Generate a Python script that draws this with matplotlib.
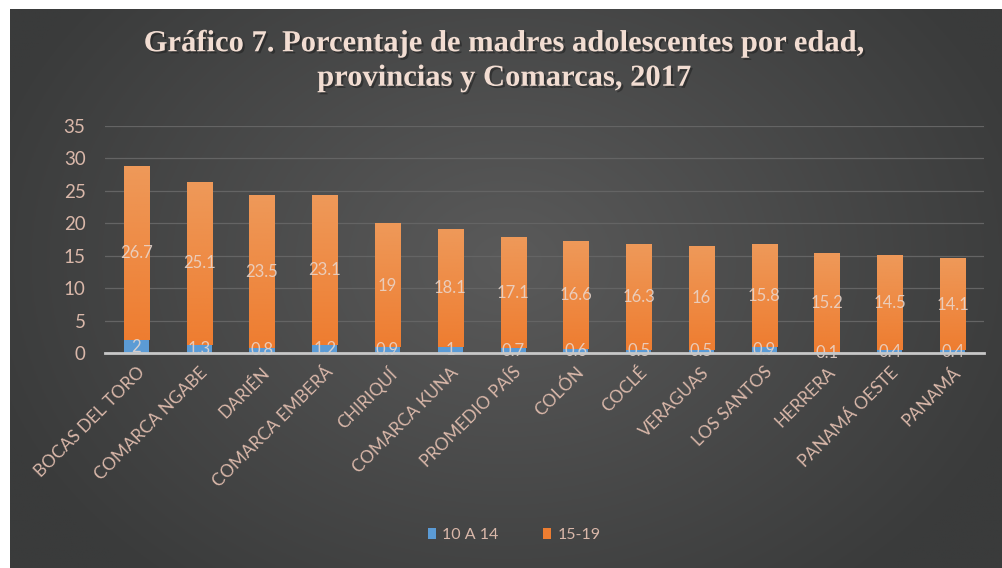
import numpy as np
import matplotlib
matplotlib.use("Agg")
import matplotlib.pyplot as plt
import matplotlib.patheffects as pe

categories = ["BOCAS DEL TORO", "COMARCA NGABE", "DARIÉN", "COMARCA EMBERÁ", "CHIRIQUÍ",
              "COMARCA KUNA", "PROMEDIO PAÍS", "COLÓN", "COCLÉ", "VERAGUAS",
              "LOS SANTOS", "HERRERA", "PANAMÁ OESTE", "PANAMÁ"]
s_10_14 = [2, 1.3, 0.8, 1.2, 0.9, 1, 0.7, 0.6, 0.5, 0.5, 0.9, 0.1, 0.4, 0.4]
s_15_19 = [26.7, 25.1, 23.5, 23.1, 19, 18.1, 17.1, 16.6, 16.3, 16, 15.8, 15.2, 14.5, 14.1]
series_names = ["10 A 14", "15-19"]
yticks = [0, 5, 10, 15, 20, 25, 30, 35]
title = "Gráfico 7. Porcentaje de madres adolescentes por edad,\nprovincias y Comarcas, 2017"

W, H = 1002, 568
fig = plt.figure(figsize=(W / 100, H / 100), dpi=100)
fig.patch.set_facecolor("white")

# background panel with radial gradient
bg = fig.add_axes([10 / W, 0, (W - 10) / W, (H - 9) / H])
ny, nx = 300, 500
yy, xx = np.mgrid[0:ny, 0:nx]
r = np.sqrt(((xx - nx * 0.5) / (nx * 0.55)) ** 2 + ((yy - ny * 0.45) / (ny * 0.75)) ** 2)
light = np.array([0x5a, 0x5a, 0x5a]) / 255
dark = np.array([0x3a, 0x3b, 0x3b]) / 255
t = np.clip(r, 0, 1)[..., None]
img = light * (1 - t) + dark * t
bg.imshow(img, aspect="auto", extent=[0, 1, 0, 1])
bg.set_axis_off()

ax = fig.add_axes([105 / W, (H - 353) / H, (984 - 105) / W, (353 - 126) / H])
ax.patch.set_alpha(0)
x = np.arange(len(categories))
bw = 0.4
orange = "#ED7D31"
blue = "#5B9BD5"
b1 = ax.bar(x, s_10_14, bw, color=blue, label=series_names[0], zorder=3)
b2 = ax.bar(x, s_15_19, bw, bottom=s_10_14, color=orange, label=series_names[1], zorder=3)

# subtle top highlight on orange bars
for rect in b2:
    xx0, yy0 = rect.get_x(), rect.get_y()
    w, h = rect.get_width(), rect.get_height()
    grad = np.linspace(0, 1, 100)[:, None]
    ax.imshow(np.dstack([np.full((100, 1), 0xEE / 255), 0.49 + 0.11 * grad, 0.19 + 0.16 * grad]),
              extent=[xx0, xx0 + w, yy0, yy0 + h], aspect="auto", origin="lower", zorder=3.5)

lblc = "#ead8cf"
for i in range(len(x)):
    ax.text(x[i], s_10_14[i] / 2, f"{s_10_14[i]:g}", ha="center", va="center",
            color=lblc, fontsize=12, family="Lato", zorder=5, alpha=0.85)
    ax.text(x[i], s_10_14[i] + s_15_19[i] / 2, f"{s_15_19[i]:g}", ha="center", va="center",
            color=lblc, fontsize=12, family="Lato", zorder=5, alpha=0.85)

ax.set_xlim(-0.5, len(categories) - 0.5)
ax.set_ylim(0, 35)
ax.set_yticks(yticks)
ax.grid(axis="y", color="#646464", lw=0.9, zorder=0)
for s in ["top", "right", "left"]:
    ax.spines[s].set_visible(False)
ax.spines["bottom"].set_color("#c8c8c8")
ax.spines["bottom"].set_linewidth(2)
ax.spines["bottom"].set_zorder(6)
tickc = "#dab8aa"
ax.tick_params(axis="y", length=0, colors=tickc, labelsize=13.5, pad=14)
ax.tick_params(axis="x", length=0, colors=tickc, labelsize=12.5, pad=8)
for lab in ax.get_yticklabels():
    lab.set_family("Lato")
ax.set_xticks(x)
ax.set_xticklabels(categories, rotation=45, ha="right", rotation_mode="anchor",
                   family="Lato")

fig.text(0.503, (H - 61) / H, title, ha="center", va="center", family="Liberation Serif",
         fontweight="bold", fontsize=22, color="#f2ddd2", linespacing=1.25,
         path_effects=[pe.withSimplePatchShadow(offset=(1.5, -1.5), shadow_rgbFace="#222222", alpha=0.6)])

leg = fig.legend(handles=[b1, b2], labels=series_names, loc="center",
                 bbox_to_anchor=(514 / W, (H - 535) / H), ncol=2, frameon=False,
                 handlelength=0.5, handleheight=0.7, handletextpad=0.4, columnspacing=2.8,
                 prop={"family": "Lato", "size": 11.5})
for t_ in leg.get_texts():
    t_.set_color(tickc)

fig.savefig("out.png", dpi=100, facecolor=fig.get_facecolor())
